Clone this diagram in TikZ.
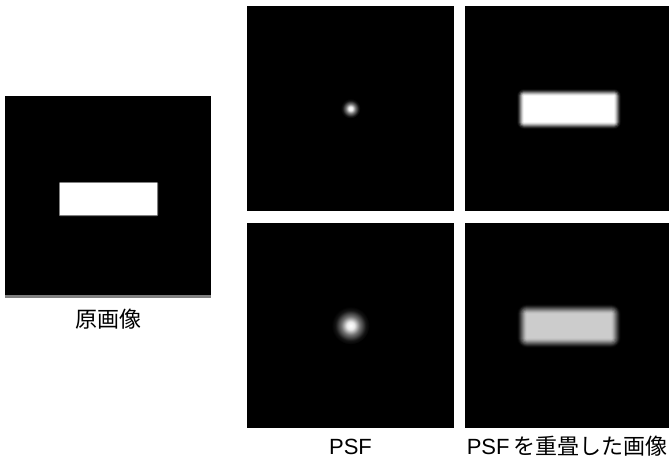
\documentclass[tikz,border=0pt]{standalone}
\usepackage{fontspec}
\setmainfont{Liberation Sans}
\newfontfamily\jpfont{Noto Sans CJK JP}
\usetikzlibrary{positioning}

\pgfdeclareradialshading{glow}{\pgfpoint{0bp}{0bp}}{color(0bp)=(white);
  color(5bp)=(white!92!black); color(12bp)=(white!45!black);
  color(20bp)=(white!8!black); color(25bp)=(black); color(50bp)=(black)}

% soft-edged rectangle: x1, y1, x2, y2, blur, colour
\newcommand\blurbox[6]{%
  \foreach \k in {0,...,#5} {
    \pgfmathsetmacro\g{#5-\k}
    \pgfmathsetmacro\t{(\k+1)/(#5+1)}
    \pgfmathtruncatemacro\p{100*\t*\t*(3-2*\t)}
    \fill[#6!\p!black, rounded corners=\g pt] (#1-\g,#2-\g) rectangle (#3+\g,#4+\g);
  }}

\begin{document}
\begin{tikzpicture}[
  x=1pt, y=-1pt,
  node distance=10pt,
  panel/.style={fill=black, inner sep=0pt, minimum height=205pt},
  caption/.style={inner sep=0pt, text height=16pt, text depth=5pt,
                  font=\fontsize{22}{26}\selectfont},
]
  \useasboundingbox (0,0) rectangle (669,461);

  \node[panel, minimum width=206pt, minimum height=202pt] (orig) at (108,197) {};
  \node[panel, minimum width=207pt] (psfa) at (350.5,108.5) {};
  \node[panel, minimum width=204pt] (conva) at (567,108.5) {};
  \node[panel, minimum width=207pt] (psfb) at (350.5,325.5) {};
  \node[panel, minimum width=204pt] (convb) at (567,325.5) {};
  \fill[gray] (orig.south west) rectangle ([yshift=3pt]orig.south east);

  % image contents
  \blurbox{60}{183}{157}{215}{1}{white}
  \shade[shading=glow] (psfa.center) circle (10pt);
  \blurbox{524}{96}{614}{122}{7}{white}
  \shade[shading=glow] (psfb.center) circle (19pt);
  \blurbox{527}{314}{611}{338}{10}{white!80!black}

  \node[caption, below=13pt of orig] (origcap) {\jpfont 原画像};
  \node[caption, below=of psfb] (psfcap) {PSF};
  \node[caption, below=of convb] (convcap) {PSF\,{\jpfont を重畳した画像}};
\end{tikzpicture}
\end{document}
